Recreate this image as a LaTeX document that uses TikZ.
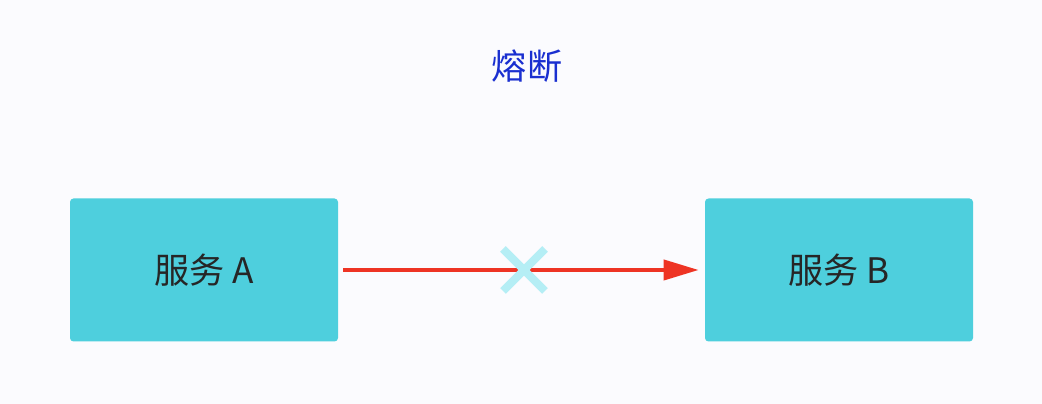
\documentclass[tikz,border=0pt]{standalone}
\usepackage{fontspec}
\setmainfont{Noto Sans CJK SC}
\usetikzlibrary{arrows.meta}
\definecolor{bg}{HTML}{FBFBFE}
\definecolor{boxc}{HTML}{4ECFDD}
\definecolor{titc}{HTML}{1A2FD0}
\definecolor{arr}{HTML}{EE3424}
\definecolor{crs}{HTML}{B5EEF5}
\begin{document}
\begin{tikzpicture}[x=0.02cm,y=-0.02cm,
  svc/.style={fill=boxc,rounded corners=2pt,minimum width=268*0.02cm,minimum height=143*0.02cm,inner sep=0pt,font=\fontsize{20}{24}\selectfont,text=black!85},
  crossline/.style={crs,line width=8*0.02cm}]
\fill[bg] (0,0) rectangle (1042,404);
\useasboundingbox (0,0) rectangle (1042,404);
\node[font=\fontsize{20}{24}\selectfont,text=titc] (t) at (527,66) {熔断};
\node[svc] (a) at (204,270) {服务 A};
\node[svc] (b) at (839,270) {服务 B};
\draw[arr,line width=4*0.02cm,-{Triangle[length=35*0.02cm,width=20*0.02cm]}] (a.east)++(5,0) coordinate (s) (s) -- ([xshift=-6*0.02cm]b.west);
\coordinate (c) at (524,270);
\draw[crossline] ([shift={(-21,-21)}]c) -- ([shift={(21,21)}]c);
\draw[crossline] ([shift={(-21,21)}]c) -- ([shift={(21,-21)}]c);
\end{tikzpicture}
\end{document}
